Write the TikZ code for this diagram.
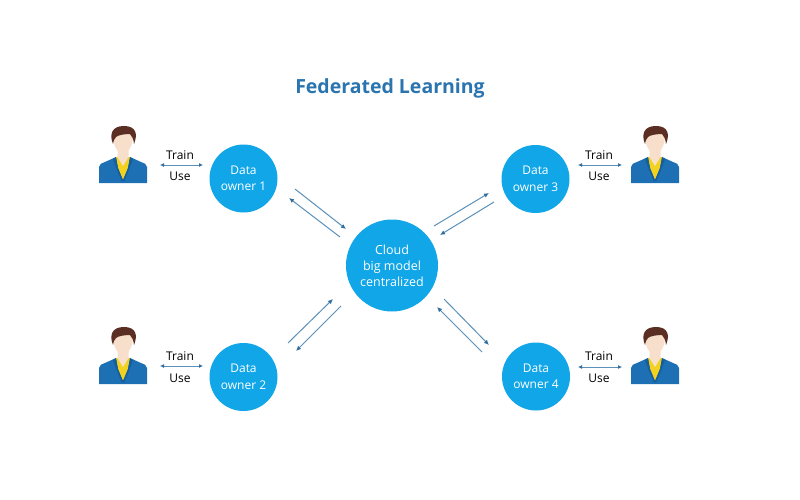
\documentclass[tikz,border=0pt]{standalone}
\usepackage{fontspec}
\setmainfont{Open Sans}
\usetikzlibrary{arrows.meta}
\definecolor{disc}{HTML}{10A6E8}
\definecolor{linkc}{HTML}{5B90B8}
\definecolor{tipc}{HTML}{2F6E9E}
\definecolor{titlec}{HTML}{2A74B0}
\definecolor{suit}{HTML}{1D70B4}
\definecolor{lapel}{HTML}{175E9C}
\definecolor{tie}{HTML}{F2D21E}
\definecolor{skin}{HTML}{F8DFCB}
\definecolor{hair}{HTML}{5A2E22}
\tikzset{
  x=1pt,y=-1pt,
  disc/.style={circle,fill=disc,draw=none,inner sep=0pt,text=white,align=center,font=\fontsize{12}{16.5}\selectfont},
  lbl/.style={text=black,inner sep=0pt,font=\fontsize{12}{14}\selectfont},
  link/.style={draw=linkc,line width=1pt,-{Latex[length=5pt,width=4.5pt,color=tipc]}},
  duo/.style={draw=linkc,line width=1pt,{Latex[length=4pt,width=4pt,color=tipc]}-{Latex[length=4pt,width=4pt,color=tipc]}},
  person/.pic={
    % body
    \fill[suit] (-24,41) -- (-24,25) .. controls (-24,22) and (-21,21) .. (-18,20) -- (-7,15) -- (7,15) -- (18,20) .. controls (21,21) and (24,22) .. (24,25) -- (24,41) -- cycle;
    % shirt
    \fill[tie] (-7,15) -- (7,15) -- (5,26) -- (0,38) -- (-5,26) -- cycle;
    % lapels
    \fill[lapel] (-7,15) -- (-10,17) -- (-6,28) -- (-1,40) -- (0,38) -- (-5,26) -- cycle;
    \fill[lapel] (7,15) -- (10,17) -- (6,28) -- (1,40) -- (0,38) -- (5,26) -- cycle;
    % neck and face
    \fill[skin] (-5.5,6) -- (5.5,6) -- (5.5,15) -- (0,24) -- (-5.5,15) -- cycle;
    \fill[skin] (-10,-9) .. controls (-10.5,3) and (-6,11) .. (0,11) .. controls (6,11) and (10.5,3) .. (10,-9) -- cycle;
    % hair
    \fill[hair] (-10,2) .. controls (-14,-8) and (-11,-16) .. (1,-16) .. controls (13,-16) and (15,-8) .. (11,2) .. controls (10.5,-3) and (9,-6) .. (7,-8) .. controls (2,-8) and (-5,-7) .. (-7,-5) .. controls (-9,-3) and (-9.5,-1) .. (-10,2) -- cycle;
  }
}
\begin{document}
\begin{tikzpicture}
\useasboundingbox (0,0) rectangle (800,500);
\fill[white] (0,0) rectangle (800,500);
\node[text=titlec,inner sep=0pt,font=\fontsize{19.5}{24}\selectfont\bfseries] (title) at (390,88) {Federated Learning};
% discs
\node[disc,minimum size=68pt] (d1) at (243.5,178.5) {Data\\owner 1};
\node[disc,minimum size=68pt] (d2) at (243.5,377) {Data\\owner 2};
\node[disc,minimum size=68pt] (d3) at (535.5,179) {Data\\owner 3};
\node[disc,minimum size=68pt] (d4) at (536,376.5) {Data\\owner 4};
\node[disc,minimum size=92pt,font=\fontsize{12.5}{16}\selectfont] (cloud) at (392,265.5) {Cloud\\big model\\centralized};
% people
\pic at (123,142) {person};
\pic at (655,142) {person};
\pic at (123,343) {person};
\pic at (655,343) {person};
% labels
\node[lbl] (t1) at (180,155) {Train};
\node[lbl] (u1) at (180,176) {Use};
\node[lbl] (t3) at (599,155) {Train};
\node[lbl] (u3) at (599,176) {Use};
\node[lbl] (t2) at (180,356) {Train};
\node[lbl] (u2) at (180,378) {Use};
\node[lbl] (t4) at (599,356) {Train};
\node[lbl] (u4) at (599,378) {Use};
% person-owner ends
\coordinate (p1a) at (160,165); \coordinate (p1b) at (203,165);
\coordinate (p3a) at (578,165); \coordinate (p3b) at (622,165);
\coordinate (p2a) at (160,366); \coordinate (p2b) at (203,366);
\coordinate (p4a) at (578,367); \coordinate (p4b) at (622,367);
\draw[duo] (p1a) -- (p1b);
\draw[duo] (p3a) -- (p3b);
\draw[duo] (p2a) -- (p2b);
\draw[duo] (p4a) -- (p4b);
% owner-cloud ends
\coordinate (a1) at (295,189); \coordinate (a2) at (346,229);
\coordinate (b1) at (340,237); \coordinate (b2) at (289,198);
\coordinate (c1) at (434,226); \coordinate (c2) at (489,193);
\coordinate (e1) at (494,202); \coordinate (e2) at (440,235);
\coordinate (f1) at (288,343); \coordinate (f2) at (333,299);
\coordinate (g1) at (341,306); \coordinate (g2) at (296,351);
\coordinate (h1) at (444,299); \coordinate (h2) at (489,345);
\coordinate (i1) at (482,352); \coordinate (i2) at (437,307);
\draw[link] (a1) -- (a2);
\draw[link] (b1) -- (b2);
\draw[link] (c1) -- (c2);
\draw[link] (e1) -- (e2);
\draw[link] (f1) -- (f2);
\draw[link] (g1) -- (g2);
\draw[link] (h1) -- (h2);
\draw[link] (i1) -- (i2);
\end{tikzpicture}
\end{document}
